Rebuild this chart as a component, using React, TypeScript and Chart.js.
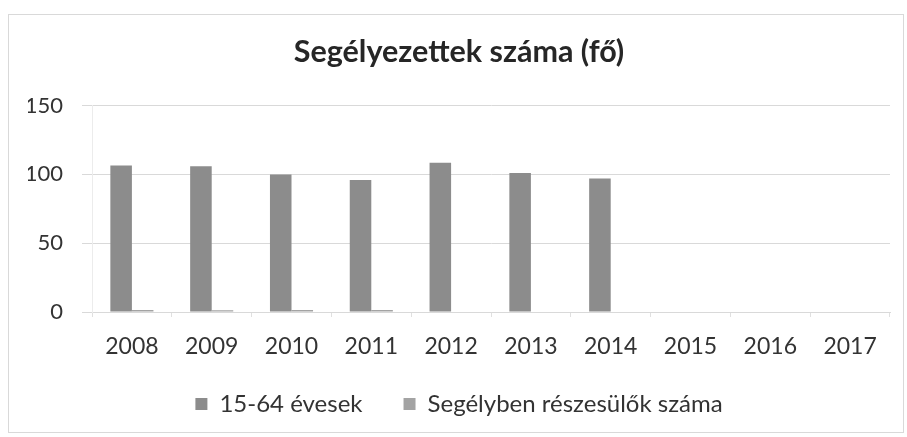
import React, { useEffect, useRef } from "react";
import { Chart, registerables } from "chart.js";

Chart.register(...registerables);

const categories = ["2008", "2009", "2010", "2011", "2012", "2013", "2014", "2015", "2016", "2017"];
const series1Label = "15-64 évesek";
const series1 = [106.5, 106, 100, 96, 108.5, 101, 97, null, null, null];
const series2Label = "Segélyben részesülők száma";
const series2 = [1.5, 1.2, 1.5, 1.5, 0, 0, 0, null, null, null];
const yTicks = [0, 50, 100, 150];
const titleText = "Segélyezettek száma (fő)";

const FONT = "Lato, 'Open Sans', sans-serif";

const borderPlugin = {
  id: "outerBorder",
  afterLayout(chart: any) {
    // let the x tick labels extend below the axis box without being clipped
    const x = chart.scales.x;
    if (x) x.bottom = x.top + 60;
  },
  beforeDraw(chart: any) {
    const ctx = chart.ctx;
    ctx.save();
    ctx.fillStyle = "#ffffff";
    ctx.fillRect(0, 0, chart.width, chart.height);
    ctx.strokeStyle = "#d9d9d9";
    ctx.lineWidth = 1;
    ctx.strokeRect(8.5, 14.5, 895, 418);
    ctx.restore();
  },
};

export default function App() {
  const ref = useRef<HTMLCanvasElement | null>(null);
  useEffect(() => {
    document.body.style.margin = "0";
    const chart = new Chart(ref.current!, {
      type: "bar",
      data: {
        labels: categories,
        datasets: [
          { label: series1Label, data: series1, backgroundColor: "#8c8c8c", categoryPercentage: 0.54, barPercentage: 1 },
          { label: series2Label, data: series2, backgroundColor: "#a3a3a3", categoryPercentage: 0.54, barPercentage: 1 },
        ],
      },
      options: {
        animation: false,
        responsive: false,
        layout: { padding: { left: 28, right: 17, top: 20, bottom: 11 } },
        plugins: {
          title: {
            display: true,
            text: titleText,
            color: "#262626",
            font: { family: FONT, size: 30.5, weight: "bold" },
            padding: { top: 14, bottom: 35 },
          },
          legend: {
            position: "bottom",
            labels: {
              color: "#333333",
              font: { family: FONT, size: 24 },
              boxWidth: 12,
              boxHeight: 12,
              padding: 41,
            },
          },
          tooltip: { enabled: false },
        },
        scales: {
          x: {
            afterFit(axis: any) {
              axis.height = 39;
            },
            grid: { display: true, drawOnChartArea: false, drawTicks: true, tickLength: 5, color: "#e0e0e0", offset: true },
            border: { color: "#d9d9d9" },
            ticks: { color: "#333333", font: { family: FONT, size: 23 }, padding: 16, maxRotation: 0 },
          },
          y: {
            min: 0,
            max: 150,
            afterBuildTicks(axis: any) {
              axis.ticks = yTicks.map((v) => ({ value: v }));
            },
            afterFit(axis: any) {
              axis.width = 64;
            },
            grid: { color: "#d9d9d9", drawTicks: true, tickLength: 10 },
            border: { display: true, color: "#ececec" },
            ticks: { color: "#333333", font: { family: FONT, size: 22 }, padding: 19 },
          },
        },
      },
      plugins: [borderPlugin],
    });
    return () => chart.destroy();
  }, []);
  return (
    <div style={{ position: "relative", width: 907, height: 437 }}>
      <canvas ref={ref} width={907} height={437} />
    </div>
  );
}
